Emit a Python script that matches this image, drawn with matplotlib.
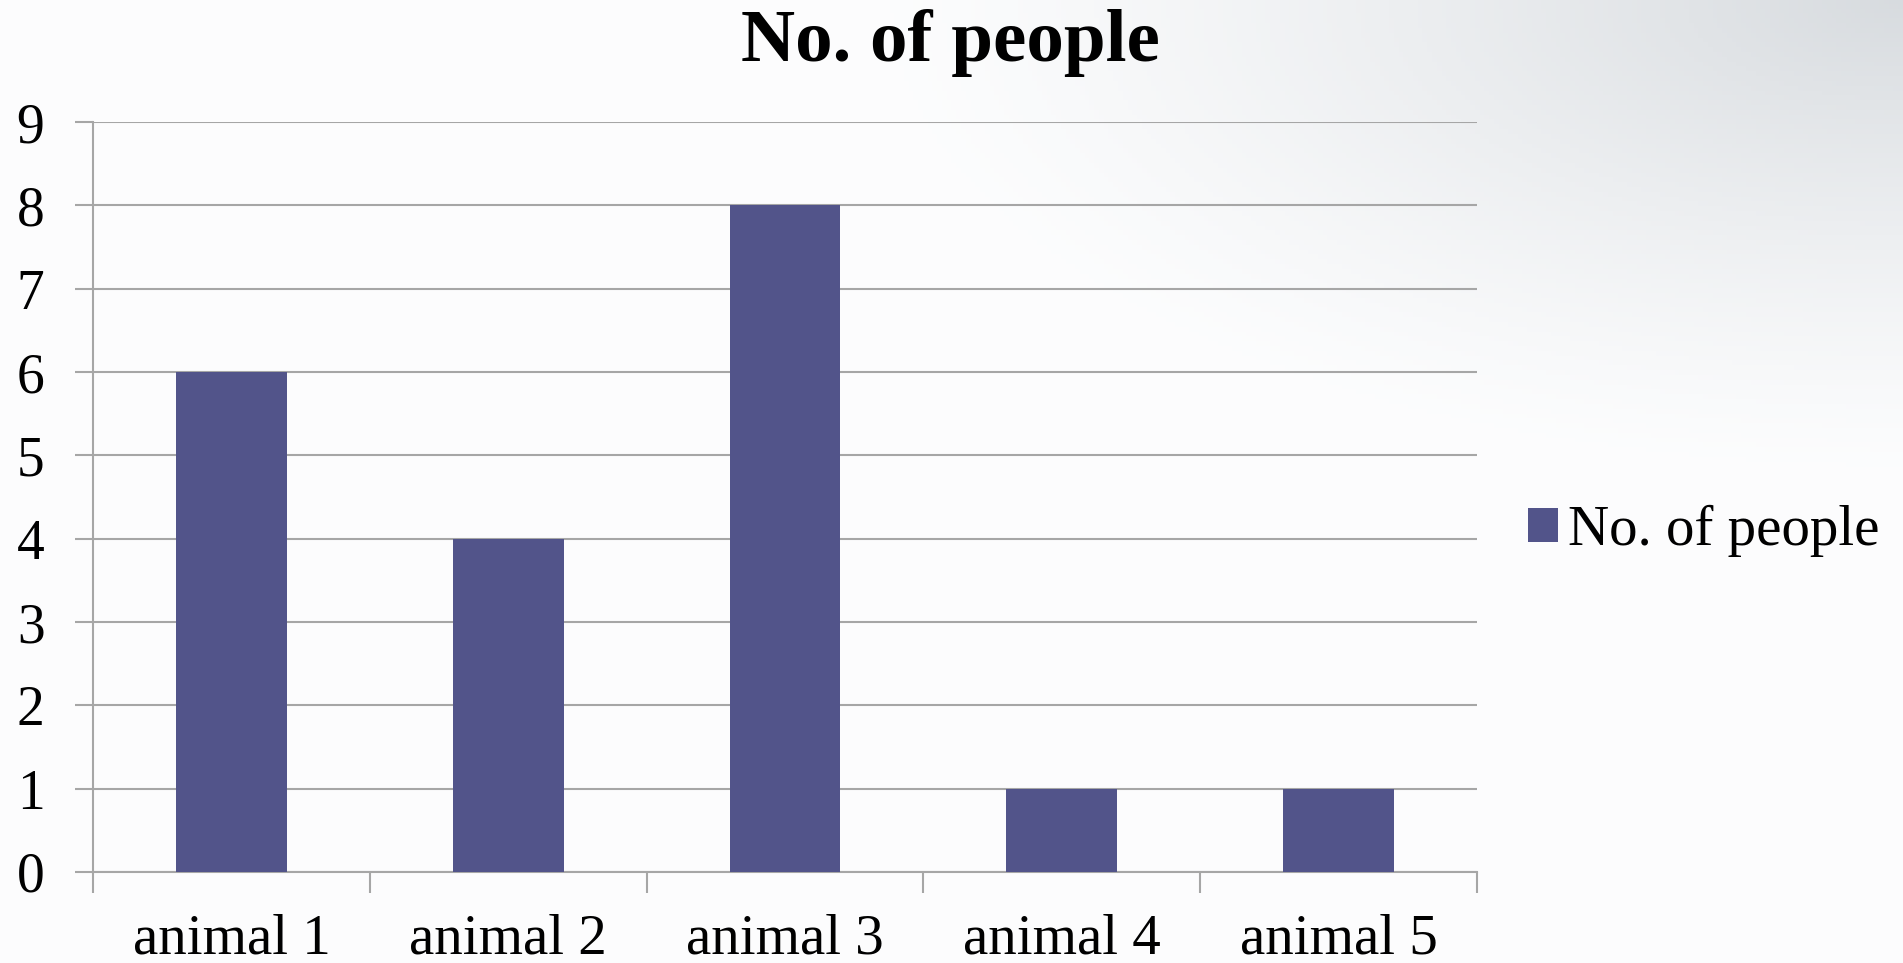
import numpy as np
import matplotlib
matplotlib.use('Agg')
import matplotlib.pyplot as plt

categories = ['animal 1', 'animal 2', 'animal 3', 'animal 4', 'animal 5']
people = [6, 4, 8, 1, 1]
series_name = 'No. of people'
title = 'No. of people'

plt.rcParams['font.family'] = ['Liberation Serif', 'DejaVu Serif']

fig = plt.figure(figsize=(19.03, 9.63), dpi=100)

# fondo con degradado gris hacia la esquina superior derecha
bg = fig.add_axes([0, 0, 1, 1], zorder=-10)
u, v = np.meshgrid(np.linspace(0, 1, 400), np.linspace(0, 1, 200))
d = np.sqrt(((1 - u) / 0.55) ** 2 + (v / 0.5) ** 2)
t = np.clip(1 - d, 0, 1) ** 1.3
white = np.array([0.99, 0.992, 0.995])
gray = np.array([0.845, 0.86, 0.875])
img = white[None, None, :] * (1 - t[..., None]) + gray[None, None, :] * t[..., None]
bg.imshow(img, extent=[0, 1, 0, 1], aspect='auto', origin='upper')
bg.axis('off')

ax = fig.add_axes([0.0489, 0.0945, 0.7272, 0.7788])
ax.set_facecolor('none')

x = np.arange(len(categories))
bars = ax.bar(x, people, width=0.4, color='#52548A', label=series_name, zorder=3)

ax.set_xlim(-0.5, len(categories) - 0.5)
ax.set_ylim(0, 9)
ax.set_yticks(range(0, 10))
ax.yaxis.grid(True, color='#a6a6a6', linewidth=1.5, zorder=0)

# ticks del eje x entre categorias
ax.set_xticks(np.arange(-0.5, len(categories)), minor=False)
ax.set_xticklabels([])
ax.set_xticks(x, minor=True)
ax.set_xticklabels(categories, minor=True)
ax.tick_params(axis='x', which='major', length=15, width=1.5, color='#a6a6a6', direction='out')
ax.tick_params(axis='x', which='minor', length=0, pad=30, labelsize=41)
ax.tick_params(axis='y', length=13, width=1.5, color='#a6a6a6', pad=22, labelsize=40)

for side in ['top', 'right']:
    ax.spines[side].set_visible(False)
for side in ['left', 'bottom']:
    ax.spines[side].set_color('#a6a6a6')
    ax.spines[side].set_linewidth(1.5)

fig.text(0.4995, 0.955, title, ha='center', va='center', fontsize=54, fontweight='bold')

ax.legend(loc='center left', bbox_to_anchor=(0.803, 0.4486), bbox_transform=fig.transFigure,
          frameon=False, fontsize=41, handlelength=0.52, handleheight=0.52,
          handletextpad=0.18, borderpad=0, borderaxespad=0)

fig.savefig('out.png', dpi=100)
